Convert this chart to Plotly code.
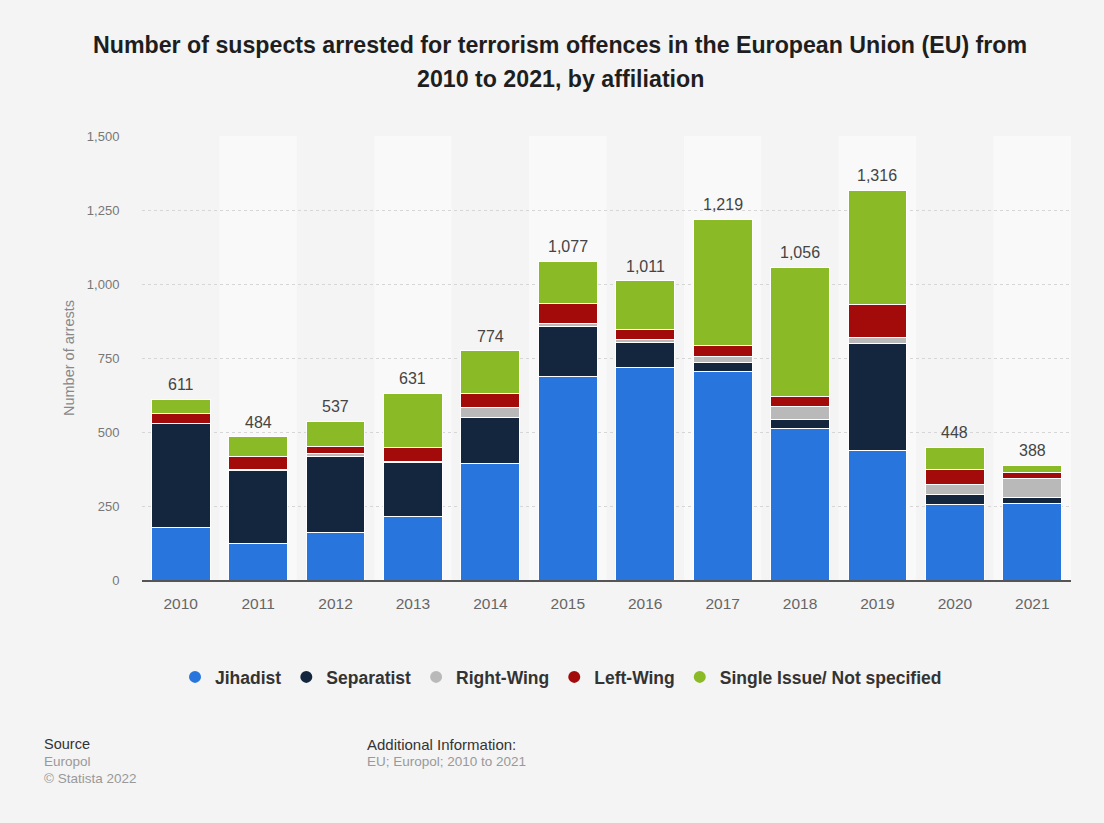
import plotly.graph_objects as go

years = ["2010", "2011", "2012", "2013", "2014", "2015", "2016", "2017", "2018", "2019", "2020", "2021"]
jihadist = [179, 122, 159, 216, 395, 687, 718, 705, 511, 436, 254, 260]
separatist = [349, 247, 257, 180, 154, 168, 84, 30, 30, 362, 34, 20]
right_wing = [1, 5, 10, 3, 34, 11, 12, 20, 44, 21, 34, 64]
left_wing = [34, 42, 24, 49, 46, 67, 31, 36, 34, 111, 52, 18]
single_issue = [48, 68, 87, 183, 145, 144, 166, 428, 437, 386, 74, 26]

series_names = ["Jihadist", "Separatist", "Right-Wing", "Left-Wing", "Single Issue/ Not specified"]
series_values = [jihadist, separatist, right_wing, left_wing, single_issue]
series_colors = ["#2876dd", "#13263d", "#b9b9b9", "#a30b0b", "#8aba25"]

y_ticks = [0, 250, 500, 750, 1000, 1250, 1500]
y_tick_text = ["0", "250", "500", "750", "1,000", "1,250", "1,500"]

title_lines = [
    "Number of suspects arrested for terrorism offences in the European Union (EU) from",
    "2010 to 2021, by affiliation",
]

totals = [sum(v) for v in zip(*series_values)]
pos = list(range(len(years)))

W, H = 1104, 823
ML, MR, MT, MB = 142, 33, 136, 243
PW, PH = W - ML - MR, H - MT - MB


def px(x):
    return (x - ML) / PW


def py(y):
    return (H - MB - y) / PH


FONT = "Liberation Sans, Arial, sans-serif"

fig = go.Figure()

for name, vals, col in zip(series_names, series_values, series_colors):
    fig.add_trace(go.Bar(
        x=pos, y=vals, name=name, marker=dict(color=col, line=dict(color="white", width=1)),
        showlegend=False, customdata=years,
        hovertemplate="%{customdata}: %{y}<extra>" + name + "</extra>",
    ))

for name, col in zip(series_names, series_colors):
    fig.add_trace(go.Scatter(
        x=[None], y=[None], mode="markers", name=name,
        marker=dict(color=col, size=15, symbol="circle"), showlegend=True,
    ))

# alternating background bands
for i in pos:
    if i % 2 == 1:
        fig.add_shape(type="rect", xref="x", yref="y", x0=i - 0.5, x1=i + 0.5, y0=0, y1=y_ticks[-1],
                      fillcolor="#f9f9f9", line=dict(width=0), layer="below")

annotations = []
for p, t in zip(pos, totals):
    annotations.append(dict(x=p, y=t, xref="x", yref="y", text=f"{t:,}", showarrow=False,
                            yanchor="bottom", yshift=4, font=dict(size=16, color="#444444", family=FONT)))

for line, yc in zip(title_lines, [45, 79]):
    annotations.append(dict(x=px(560), y=py(yc), xref="paper", yref="paper", text="<b>" + line + "</b>",
                            showarrow=False, xanchor="center", yanchor="middle",
                            font=dict(size=23.2, color="#1e1e1e", family=FONT)))

foot = [
    (42, 744, "Source", "#333333", 14.5),
    (42, 761, "Europol", "#999999", 13.5),
    (42, 778, "© Statista 2022", "#999999", 13.5),
    (365, 744, "Additional Information:", "#333333", 15),
    (365, 761, "EU; Europol; 2010 to 2021", "#999999", 13.5),
]
for x, y, txt, col, sz in foot:
    annotations.append(dict(x=px(x), y=py(y), xref="paper", yref="paper", text=txt, showarrow=False,
                            xanchor="left", yanchor="middle", font=dict(size=sz, color=col, family=FONT)))

fig.update_layout(
    width=W, height=H,
    margin=dict(l=ML, r=MR, t=MT, b=MB, autoexpand=False),
    paper_bgcolor="#f4f4f4", plot_bgcolor="#f4f4f4",
    barmode="stack", bargap=0.24,
    font=dict(family=FONT),
    annotations=annotations,
    showlegend=True,
    legend=dict(orientation="h", x=px(561), xanchor="center", y=py(677), yanchor="middle",
                traceorder="normal", font=dict(size=17.5, color="#333333", family=FONT, weight="bold"),
                itemsizing="constant", bgcolor="rgba(0,0,0,0)"),
    xaxis=dict(range=[-0.5, len(years) - 0.5], tickvals=pos, ticktext=years, showgrid=False,
               showline=True, linecolor="#555555", linewidth=1.5, zeroline=False,
               ticks="outside", ticklen=9, tickcolor="rgba(0,0,0,0)",
               tickfont=dict(size=15.5, color="#666666", family=FONT), fixedrange=True),
    yaxis=dict(range=[0, 1500], tickvals=y_ticks, ticktext=y_tick_text, showgrid=True,
               gridcolor="#d6d6d6", griddash="dot", gridwidth=1, zeroline=False,
               ticks="outside", ticklen=19, tickcolor="rgba(0,0,0,0)",
               tickfont=dict(size=13, color="#777777", family=FONT),
               title=dict(text="Number of arrests", font=dict(size=14.5, color="#888888", family=FONT), standoff=8),
               fixedrange=True),
)

fig.write_html("out.html", config={"displayModeBar": False},
               post_script="document.body.style.margin='0';document.body.style.background='#f4f4f4';")
